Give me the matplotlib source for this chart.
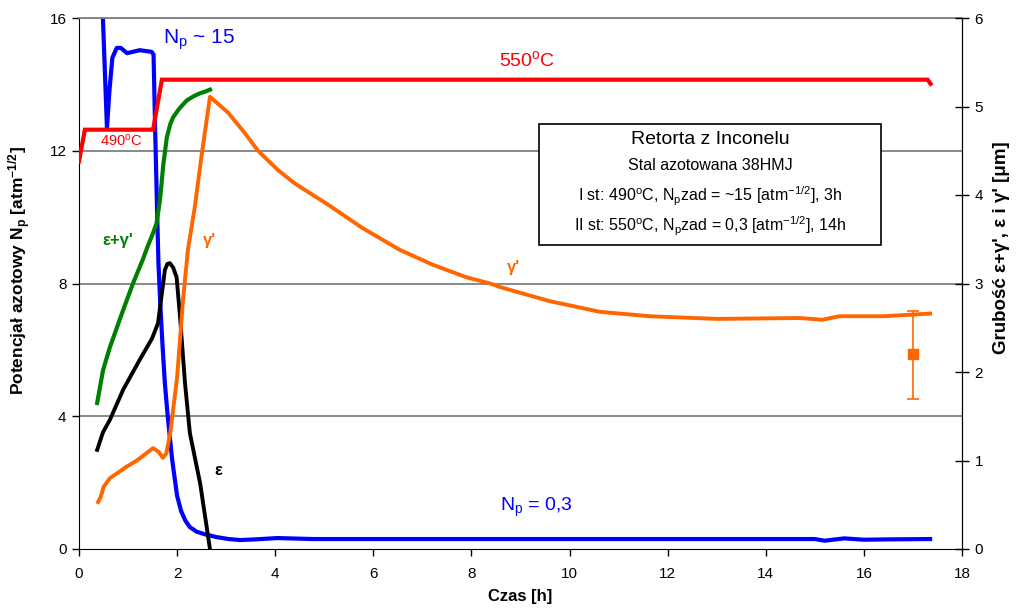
import matplotlib as mpl
mpl.use('Agg')
import matplotlib.pyplot as plt
from matplotlib.patches import Rectangle

plt.rcParams['font.family'] = ['Liberation Sans', 'DejaVu Sans']
plt.rcParams['mathtext.fontset'] = 'custom'
plt.rcParams['mathtext.rm'] = 'Liberation Sans'
plt.rcParams['mathtext.it'] = 'Liberation Sans'
plt.rcParams['mathtext.bf'] = 'Liberation Sans:bold'

# temperatura [C] (ukryta os)
tempX = [0, 0.12, 1.51, 1.69, 17.3, 17.36]
tempY = [452, 490, 490, 550, 550, 545]

# potencjal azotowy Np (lewa os)
npX = [0.45, 0.57, 0.62, 0.68, 0.77, 0.85, 0.98, 1.24, 1.48, 1.52, 1.55, 1.59, 1.62, 1.66,
       1.7, 1.75, 1.81, 1.9, 2.0, 2.08, 2.17, 2.26, 2.4, 2.55, 2.8, 3.05, 3.28, 3.6, 4.04,
       4.77, 6, 8, 10, 12, 14, 15.0, 15.2, 15.6, 16.0, 16.5, 17.35]
npY = [17.5, 12.68, 13.8, 14.8, 15.1, 15.1, 14.94, 15.03, 14.98, 14.9, 12.8, 10.3, 8.6, 7.3,
       6.2, 5.0, 3.98, 2.68, 1.6, 1.15, 0.85, 0.66, 0.52, 0.45, 0.36, 0.3, 0.27, 0.29, 0.33,
       0.3, 0.3, 0.3, 0.3, 0.3, 0.3, 0.3, 0.25, 0.32, 0.28, 0.29, 0.3]

# grubosc warstw [um] (prawa os)
egX = [0.37, 0.49, 0.63, 0.9, 1.1, 1.3, 1.4, 1.51, 1.58, 1.65, 1.72, 1.79, 1.86, 1.92, 2.05,
       2.2, 2.35, 2.47, 2.58, 2.67]
egY = [1.65, 2.02, 2.28, 2.7, 3.0, 3.27, 3.42, 3.57, 3.68, 3.94, 4.35, 4.65, 4.8, 4.88, 4.98,
       5.07, 5.12, 5.15, 5.17, 5.19]

epsX = [0.37, 0.49, 0.63, 0.9, 1.24, 1.49, 1.61, 1.69, 1.75, 1.8, 1.85, 1.92, 1.99, 2.06,
        2.16, 2.26, 2.47, 2.67]
epsY = [1.12, 1.32, 1.46, 1.8, 2.14, 2.38, 2.55, 2.89, 3.15, 3.22, 3.23, 3.18, 3.07, 2.62,
        1.88, 1.31, 0.74, 0.0]

gamX = [0.39, 0.45, 0.5, 0.63, 0.97, 1.18, 1.51, 1.62, 1.71, 1.78, 1.86, 2.0, 2.12, 2.22,
        2.36, 2.5, 2.67, 3.04, 3.38, 3.65, 4.06, 4.4, 5.08, 5.77, 6.54, 7.22, 7.9, 8.38, 8.58,
        9.6, 10.62, 11.64, 13.0, 14.7, 15.15, 15.5, 16.4, 17.35]
gamY = [0.53, 0.6, 0.7, 0.8, 0.93, 1.0, 1.14, 1.1, 1.03, 1.08, 1.31, 1.94, 2.81, 3.38, 3.86,
        4.45, 5.11, 4.93, 4.7, 4.5, 4.28, 4.13, 3.89, 3.63, 3.38, 3.21, 3.07, 3.0, 2.96, 2.8,
        2.68, 2.63, 2.6, 2.61, 2.59, 2.63, 2.63, 2.66]

# pomiar z rozrzutem
measX = [17.0]
measY = [2.2]
measLo = [0.5]
measHi = [0.49]

xTicks = list(range(0, 19, 2))
leftTicks = [0, 4, 8, 12, 16]
rightTicks = [0, 1, 2, 3, 4, 5, 6]

RED = '#FF0000'
BLUE = '#0000FF'
GREEN = '#008000'
ORANGE = '#FF6600'
GRID = '#808080'

fg = plt.figure(figsize=(10.16, 6.15), dpi=100)
ax = fg.add_axes([79 / 1016, 1 - 549 / 615, (962 - 79) / 1016, (549 - 18) / 615])
axT = ax.twinx()
ax2 = ax.twinx()

ax.set_xlim(0, 18)
ax.set_ylim(0, 16)
ax2.set_ylim(0, 6)
axT.set_ylim(-13, 624)

for v in leftTicks[1:]:
    ax.axhline(v, color=GRID, lw=1.3, zorder=0.5)

ax.set_xticks(xTicks)
ax.set_yticks(leftTicks)
ax2.set_yticks(rightTicks)
ax.tick_params(axis='both', direction='out', length=5, width=1, labelsize=11, pad=4)
ax.tick_params(axis='x', pad=8)
ax2.tick_params(axis='y', direction='inout', length=10, width=1, labelsize=11, pad=4)

ax.spines['top'].set_color(GRID)
ax.spines['top'].set_linewidth(1.3)
for s in ['top', 'right', 'left', 'bottom']:
    axT.spines[s].set_visible(False)
ax2.spines['top'].set_visible(False)
ax2.spines['left'].set_visible(False)
ax2.spines['bottom'].set_visible(False)
axT.set_yticks([])

axT.plot(tempX, tempY, color=RED, lw=3, solid_joinstyle='miter')
ax.plot(npX, npY, color=BLUE, lw=3)
ax2.plot(egX, egY, color=GREEN, lw=3)
ax2.plot(epsX, epsY, color='black', lw=2.8)
ax2.plot(gamX, gamY, color=ORANGE, lw=2.8)
ax2.errorbar(measX, measY, yerr=[measLo, measHi], fmt='s', color=ORANGE, ms=7,
             elinewidth=1.2, capsize=4, capthick=1.2)
ax2.set_zorder(ax.get_zorder() + 2)
axT.set_zorder(ax.get_zorder() + 1)

ax.set_xlabel('Czas [h]', fontsize=12, fontweight='bold', labelpad=6)
ax.set_ylabel(r'Potencjał azotowy N$_\mathbf{p}$ [atm$^\mathbf{-1/2}$]', fontsize=12.5,
              fontweight='bold')
ax.yaxis.set_label_coords(-0.052, 0.525)
ax2.set_ylabel("Grubość ε+γ', ε i γ' [μm]", fontsize=13.5, fontweight='bold')
ax2.yaxis.set_label_coords(1.035, 0.567)

# opisy krzywych
ax.text(1.71, 15.34, r'N$_\mathrm{p}$ ~ 15', color=BLUE, fontsize=15, ha='left', va='center')
ax.text(9.13, 14.73, r'550$^\mathrm{o}$C', color=RED, fontsize=14, ha='center', va='center')
ax.text(0.86, 12.3, r'490$^\mathrm{o}$C', color=RED, fontsize=10.5, ha='center', va='center')
ax.text(0.47, 9.31, "ε+γ'", color=GREEN, fontsize=12, fontweight='bold', ha='left', va='center')
ax.text(2.67, 9.31, "γ'", color=ORANGE, fontsize=12, fontweight='bold', ha='center', va='center')
ax.text(2.83, 2.38, 'ε', color='black', fontsize=12, fontweight='bold', ha='center', va='center')
ax.text(8.58, 1.24, r'N$_\mathrm{p}$ = 0,3', color=BLUE, fontsize=14, ha='left', va='center')
ax.text(8.85, 8.47, "γ'", color=ORANGE, fontsize=12, fontweight='bold', ha='center', va='center',
        bbox=dict(facecolor='white', edgecolor='none', pad=1.5), zorder=0.8)

# ramka z opisem procesu
box = Rectangle((539 / 1016, 1 - 245 / 615), 342 / 1016, 121 / 615, transform=fg.transFigure,
                facecolor='white', edgecolor='black', lw=1.2, zorder=5)
fg.add_artist(box)
cx = 710 / 1016
fg.text(cx, 1 - 139 / 615, 'Retorta z Inconelu', fontsize=14, ha='center', va='center', zorder=6)
fg.text(cx, 1 - 166 / 615, 'Stal azotowana 38HMJ', fontsize=11.5, ha='center', va='center', zorder=6)
fg.text(cx, 1 - 196 / 615, r'I st: 490$^\mathrm{o}$C, N$_\mathrm{p}$zad = ~15 [atm$^{-1/2}$], 3h',
        fontsize=11.5, ha='center', va='center', zorder=6)
fg.text(cx, 1 - 226 / 615, r'II st: 550$^\mathrm{o}$C, N$_\mathrm{p}$zad = 0,3 [atm$^{-1/2}$], 14h',
        fontsize=11.5, ha='center', va='center', zorder=6)

fg.savefig('out.png', dpi=100)
